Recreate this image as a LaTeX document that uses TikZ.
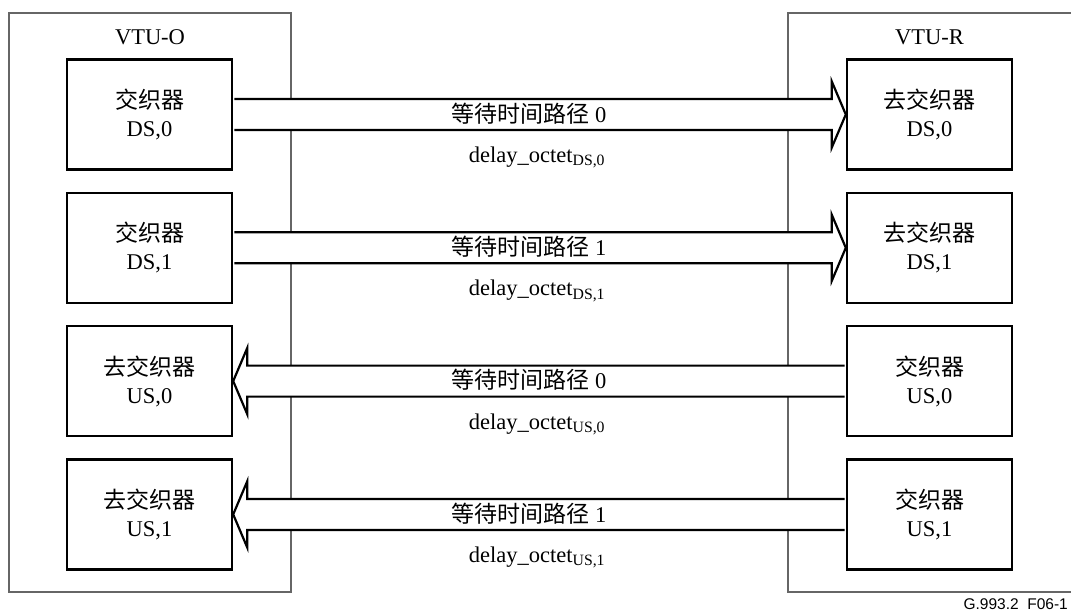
\documentclass[tikz,border=0pt]{standalone}
\usepackage{fontspec}
\setmainfont{Liberation Serif}
\newfontfamily\cjk{Noto Sans CJK SC}
\newfontfamily\tagfont{Liberation Sans}
\usetikzlibrary{calc}

% wide hollow arrow from the east side of #1 to the west side of #2
\newcommand\fatright[2]{%
  \filldraw[fatarrow]
    ($(#1.east)+(1.2,-15.5)$) -- ($(#2.west)+(-14,-15.5)$) -- ($(#2.west)+(-14,-33)$)
    -- (#2.west) -- ($(#2.west)+(-14,33)$) -- ($(#2.west)+(-14,15.5)$)
    -- ($(#1.east)+(1.2,15.5)$);}
% wide hollow arrow from the west side of #1 to the east side of #2
\newcommand\fatleft[2]{%
  \filldraw[fatarrow]
    ($(#1.west)+(-1.2,-15.5)$) -- ($(#2.east)+(14,-15.5)$) -- ($(#2.east)+(14,-33)$)
    -- (#2.east) -- ($(#2.east)+(14,33)$) -- ($(#2.east)+(14,15.5)$)
    -- ($(#1.west)+(-1.2,15.5)$);}

\begin{document}
\begin{tikzpicture}[x=1pt,y=-1pt,
  unit/.style={draw=black!60, line width=1.2pt, minimum height=579, inner sep=0},
  title/.style={font=\fontsize{22.5}{26}\selectfont},
  block/.style={draw, line width=2.4pt, minimum width=165, minimum height=110,
    inner sep=0, align=center, font=\fontsize{22.5}{28}\selectfont},
  fatarrow/.style={fill=white, draw=black, line width=2.2pt, line join=miter},
  pathlbl/.style={font=\fontsize{22.5}{26}\selectfont, inner sep=0},
  delaylbl/.style={font=\fontsize{22.5}{26}\selectfont, inner sep=0}]
\useasboundingbox (0,0) rectangle (1071,612);
\fill[white] (0,0) rectangle (1071,612);

% the two transceivers
\node[unit, minimum width=282] (vtuo) at (150,302.5) {};
\node[unit, minimum width=290] (vtur) at (933,302.5) {};
\node[title] (to) at (150,37) {VTU-O};
\node[title] (tr) at (929.5,37) {VTU-R};

% interleavers and de-interleavers
\node[block] (o0) at (149.5,114.5) {{\cjk\fontsize{23}{28}\selectfont 交织器}\\DS,0};
\node[block] (o1) at (149.5,247.8) {{\cjk\fontsize{23}{28}\selectfont 交织器}\\DS,1};
\node[block] (o2) at (149.5,381.1) {{\cjk\fontsize{23}{28}\selectfont 去交织器}\\US,0};
\node[block] (o3) at (149.5,514.4) {{\cjk\fontsize{23}{28}\selectfont 去交织器}\\US,1};
\node[block] (r0) at (929.5,114.5) {{\cjk\fontsize{23}{28}\selectfont 去交织器}\\DS,0};
\node[block] (r1) at (929.5,247.8) {{\cjk\fontsize{23}{28}\selectfont 去交织器}\\DS,1};
\node[block] (r2) at (929.5,381.1) {{\cjk\fontsize{23}{28}\selectfont 交织器}\\US,0};
\node[block] (r3) at (929.5,514.4) {{\cjk\fontsize{23}{28}\selectfont 交织器}\\US,1};

% latency paths
\fatright{o0}{r0}
\fatright{o1}{r1}
\fatleft{r2}{o2}
\fatleft{r3}{o3}

\node[pathlbl] (p0) at (529,113.5) {{\cjk\fontsize{23}{26}\selectfont 等待时间路径} 0};
\node[pathlbl] (p1) at (529,246.8) {{\cjk\fontsize{23}{26}\selectfont 等待时间路径} 1};
\node[pathlbl] (p2) at (529,380.1) {{\cjk\fontsize{23}{26}\selectfont 等待时间路径} 0};
\node[pathlbl] (p3) at (529,513.4) {{\cjk\fontsize{23}{26}\selectfont 等待时间路径} 1};

\node[delaylbl] (d0) at (537,157.5) {delay\_octet\textsubscript{DS,0}};
\node[delaylbl] (d1) at (537,290.8) {delay\_octet\textsubscript{DS,1}};
\node[delaylbl] (d2) at (537,424.1) {delay\_octet\textsubscript{US,0}};
\node[delaylbl] (d3) at (537,557.4) {delay\_octet\textsubscript{US,1}};

\node[anchor=base east, inner sep=0, font=\tagfont\fontsize{15.5}{18}\selectfont] (fig) at (1068,609)
  {G.993.2\ \ F06-1};
\end{tikzpicture}
\end{document}
